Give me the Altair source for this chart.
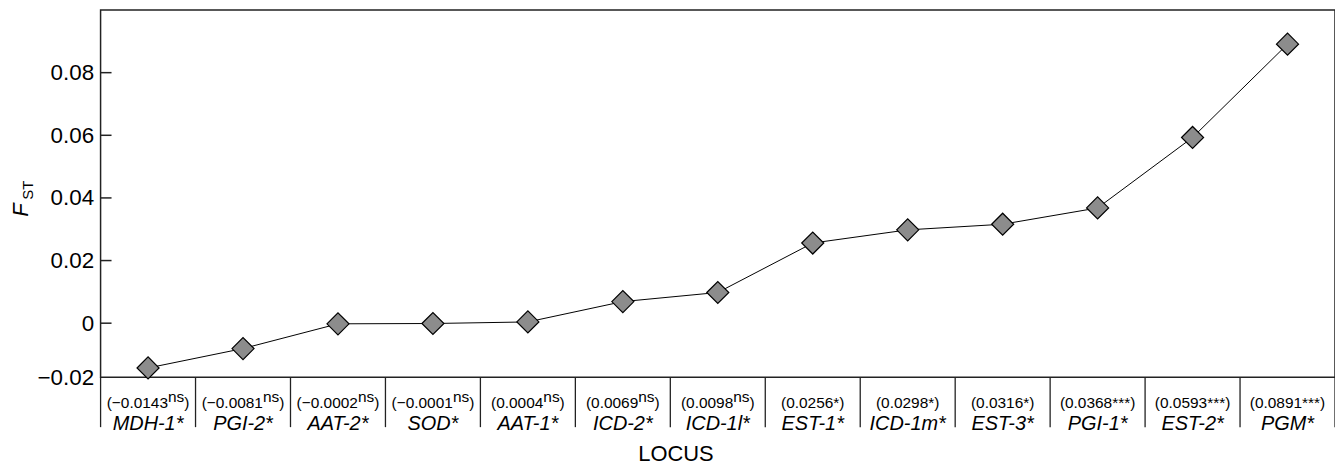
import altair as alt
import pandas as pd

# ---- data ----
loci = ["MDH-1*", "PGI-2*", "AAT-2*", "SOD*", "AAT-1*", "ICD-2*", "ICD-1l*",
        "EST-1*", "ICD-1m*", "EST-3*", "PGI-1*", "EST-2*", "PGM*"]
fst = [-0.0143, -0.0081, -0.0002, -0.0001, 0.0004, 0.0069, 0.0098,
       0.0256, 0.0298, 0.0316, 0.0368, 0.0593, 0.0891]
value_main = ["(−0.0143", "(−0.0081", "(−0.0002", "(−0.0001", "(0.0004", "(0.0069", "(0.0098",
              "(0.0256*", "(0.0298*", "(0.0316*", "(0.0368***", "(0.0593***", "(0.0891***"]
value_sup = ["ns", "ns", "ns", "ns", "ns", "ns", "ns", "", "", "", "", "", ""]
y_tick_values = [0, 0.02, 0.04, 0.06, 0.08]
y_bottom = -0.0173
y_top = 0.1

# ---- layout / style ----
W, H = 1240, 369
FONT = "Liberation Sans"
MAIN_FS, SUP_FS, NAME_FS = 15.5, 15.5, 20
band = W / len(loci)

# approximate Arial/Liberation Sans advance widths (em)
CW = {"(": 0.333, ")": 0.333, "−": 0.584, ".": 0.278, "*": 0.389, "n": 0.556, "s": 0.5}
def text_w(s, fs):
    return sum(CW.get(c, 0.556) for c in s) * fs

idx = list(range(len(loci)))
df = pd.DataFrame({"idx": idx, "locus": loci, "fst": fst})

rows_main, rows_sup, rows_close = [], [], []
for i, m, s in zip(idx, value_main, value_sup):
    wm, ws, wc = text_w(m, MAIN_FS), text_w(s, SUP_FS), text_w(")", MAIN_FS)
    x0 = i - (wm + ws + wc) / 2 / band
    rows_main.append({"x": x0, "t": m})
    if s:
        rows_sup.append({"x": x0 + wm / band, "t": s})
    rows_close.append({"x": x0 + (wm + ws) / band, "t": ")"})
df_main = pd.DataFrame(rows_main)
df_sup = pd.DataFrame(rows_sup)
df_close = pd.DataFrame(rows_close)
df_bounds = pd.DataFrame({"b": [k - 0.5 for k in range(len(loci) + 1)]})
df_ticks = pd.DataFrame({"fst": y_tick_values})
one = pd.DataFrame({"a": [0]})

xs = alt.Scale(domain=[-0.5, len(loci) - 0.5], nice=False, zero=False)
ys = alt.Scale(domain=[y_bottom, y_top], nice=False, zero=False)

label_expr = ("datum.value < -0.01 ? '−0.02' : (datum.value == 0 ? '0' : format(datum.value, '.2f'))")
yaxis = alt.Axis(values=[y_bottom] + y_tick_values, labelExpr=label_expr,
                 tickSize=0, domain=False, grid=False, title=None,
                 labelFontSize=22.5, labelFont=FONT, labelColor="black",
                 labelPadding=7)
Y = alt.Y("fst:Q", scale=ys, axis=yaxis, title=None)

line = alt.Chart(df).mark_line(color="black", strokeWidth=1).encode(
    x=alt.X("idx:Q", scale=xs, axis=None), y=Y)
points = alt.Chart(df).mark_point(shape="diamond", filled=True, fill="#8c8c8c",
                                  stroke="black", strokeWidth=1.2, size=490, opacity=1).encode(
    x=alt.X("idx:Q", scale=xs, axis=None), y=Y)
ticks = alt.Chart(df_ticks).mark_rule(color="#222", strokeWidth=1.5).encode(
    y=Y, x=alt.value(0), x2=alt.value(11))
seps = alt.Chart(df_bounds).mark_rule(color="#222", strokeWidth=1.3).encode(
    x=alt.X("b:Q", scale=xs, axis=None),
    y=alt.value(H), y2=alt.value(H + 50),
)
t_main = alt.Chart(df_main).mark_text(align="left", baseline="alphabetic", font=FONT,
                                      fontSize=MAIN_FS, color="black").encode(
    x=alt.X("x:Q", scale=xs, axis=None), y=alt.value(H + 31), text="t:N")
t_sup = alt.Chart(df_sup).mark_text(align="left", baseline="alphabetic", font=FONT,
                                    fontSize=SUP_FS, color="black").encode(
    x=alt.X("x:Q", scale=xs, axis=None), y=alt.value(H + 25), text="t:N")
t_close = alt.Chart(df_close).mark_text(align="left", baseline="alphabetic", font=FONT,
                                        fontSize=MAIN_FS, color="black").encode(
    x=alt.X("x:Q", scale=xs, axis=None), y=alt.value(H + 31), text="t:N")
t_names = alt.Chart(df).mark_text(align="center", baseline="alphabetic", font=FONT,
                                  fontSize=NAME_FS, fontStyle="italic", color="black").encode(
    x=alt.X("idx:Q", scale=xs, axis=None), y=alt.value(H + 53), text="locus:N")
t_xtitle = alt.Chart(one).mark_text(align="center", baseline="alphabetic", font=FONT,
                                    fontSize=22, color="black").encode(
    x=alt.value(W / 2 - 42), y=alt.value(H + 84), text=alt.value("LOCUS"))
t_F = alt.Chart(one).mark_text(align="center", baseline="middle", font=FONT, angle=270,
                               fontSize=22, fontStyle="italic", color="black").encode(
    x=alt.value(-80), y=alt.value(201), text=alt.value("F"))
t_ST = alt.Chart(one).mark_text(align="center", baseline="middle", font=FONT, angle=270,
                                fontSize=15, color="black").encode(
    x=alt.value(-73), y=alt.value(181), text=alt.value("ST"))

chart = alt.layer(line, points, ticks, seps, t_main, t_sup, t_close, t_names,
                  t_xtitle, t_F, t_ST).properties(
    width=W, height=H,
    background="white",
    autosize=alt.AutoSizeParams(type="none"),
    padding={"left": 93, "top": 1, "right": 0, "bottom": 88},
).configure_view(stroke="#222", strokeWidth=1.5)

chart.save("out.html", embed_options={"renderer": "svg", "actions": False})
